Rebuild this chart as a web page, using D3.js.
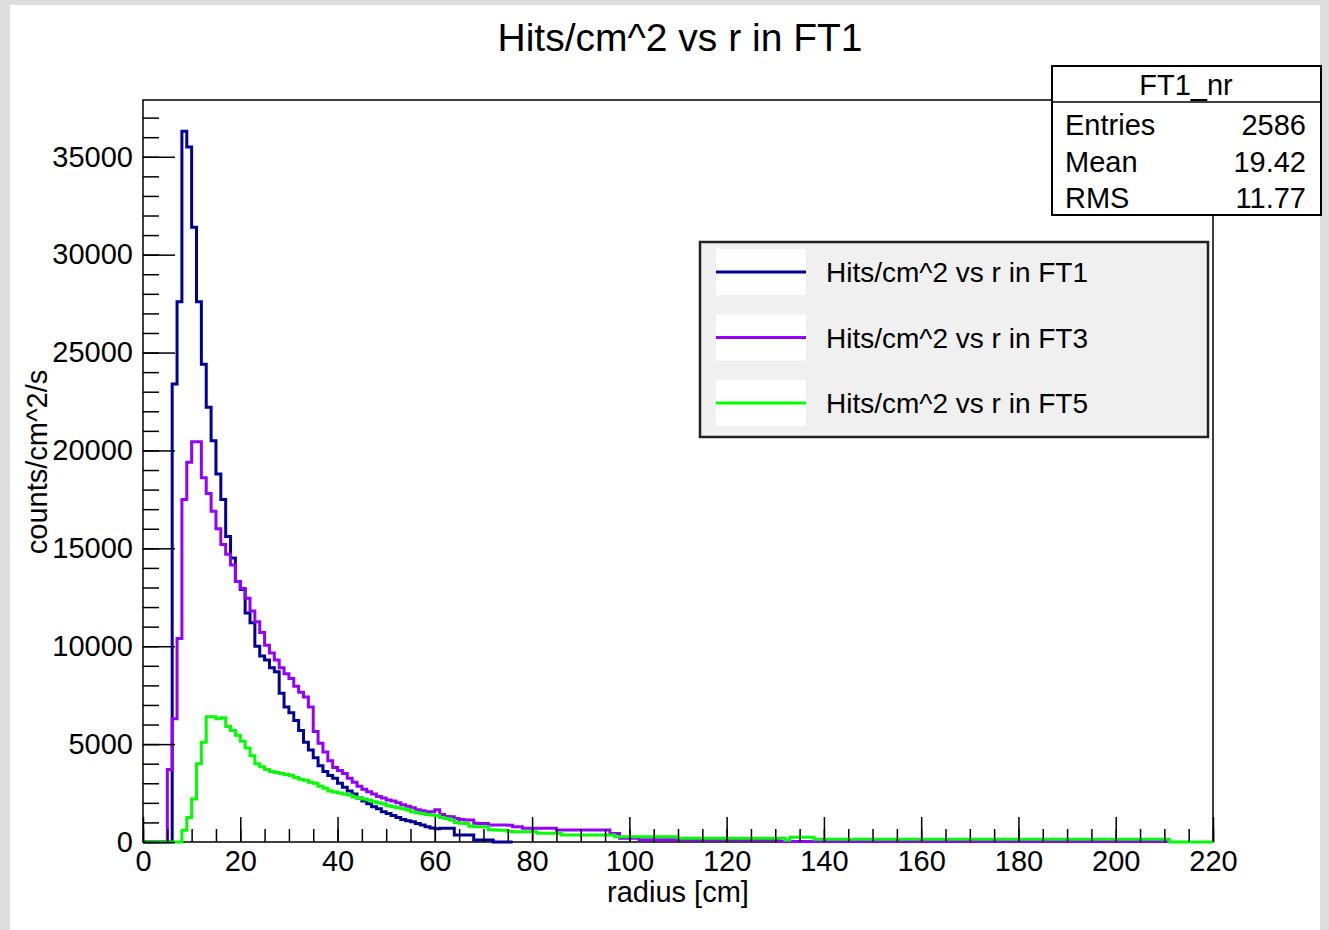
<!DOCTYPE html>
<html lang="en">
<head>
<meta charset="UTF-8">
<title>Hits/cm^2 vs r in FT1</title>
<script src="https://d3js.org/d3.v7.min.js"></script>
<style>
  body { margin: 0; padding: 0; background: #dedede; }
  svg { display: block; font-family: "Liberation Sans", Arial, Helvetica, sans-serif; }
</style>
</head>
<body>
<div id="chart"></div>
<script>
// histogram bins, 1 cm wide, starting at r = 0
const binWidth = 1;

// FT1 (bins 0..75)
const ft1 = [
  0, 0, 0, 0, 0, 0, 23400, 27600, 36300, 35500,
  31400, 27600, 24400, 22200, 20500, 18800, 17500, 15600, 14500, 13300,
  12900, 11700, 11200, 10000, 9500, 9300, 8900, 8700, 7600, 6900,
  6600, 6200, 5700, 5100, 4700, 4300, 3900, 3600, 3400, 3250,
  3000, 2800, 2600, 2450, 2250, 2100, 1950, 1800, 1700, 1550,
  1450, 1350, 1250, 1150, 1080, 1040, 950, 870, 780, 720,
  680, 700, 700, 700, 360, 360, 360, 360, 100, 100,
  100, 100, 0, 0, 0, 0
];

// FT3 (bins 0..210)
const ft3 = [
  0, 0, 0, 0, 0, 3700, 6300, 10400, 17500, 19400,
  20450, 20450, 18600, 17800, 16900, 16000, 15200, 14700, 14150, 13300,
  12950, 12450, 11800, 11250, 10700, 10050, 9650, 9300, 8900, 8600,
  8350, 7950, 7650, 7400, 6900, 5650, 5050, 4600, 4150, 3800,
  3650, 3500, 3250, 3050, 2850, 2700, 2570, 2450, 2320, 2250,
  2150, 2100, 2000, 1900, 1820, 1750, 1650, 1600, 1550, 1550,
  1650, 1400, 1300, 1290, 1200, 1150, 1120, 1120, 960, 950,
  950, 870, 870, 870, 870, 850, 780, 780, 700, 700,
  700, 700, 700, 700, 700, 610, 610, 610, 610, 610,
  610, 610, 610, 610, 610, 610, 440, 440, 190, 190,
  190, 190, 110, 110, 110, 110, 110, 110, 110, 110,
  110, 110, 110, 110, 110, 110, 110, 110, 110, 110,
  110, 110, 110, 110, 110, 110, 110, 110, 110, 110,
  110, 30, 30, 30, 30, 30, 30, 30, 30, 30,
  30, 30, 30, 30, 30, 30, 30, 30, 30, 30,
  30, 30, 30, 30, 30, 30, 30, 30, 30, 30,
  30, 30, 30, 30, 30, 30, 30, 30, 30, 30,
  30, 30, 30, 30, 30, 30, 30, 30, 30, 30,
  30, 30, 30, 30, 30, 30, 30, 30, 30, 30,
  30, 30, 30, 30, 30, 30, 30, 30, 30, 30,
  30, 30, 30, 30, 30, 30, 30, 30, 30, 30,
  30
];

// FT5 (bins 0..219)
const ft5 = [
  0, 0, 0, 0, 0, 0, 0, 0, 600, 1250,
  2200, 4000, 5100, 6400, 6400, 6300, 6350, 5900, 5700, 5450,
  5150, 4800, 4400, 4000, 3850, 3700, 3600, 3550, 3500, 3450,
  3400, 3300, 3200, 3150, 3050, 3000, 2850, 2750, 2600, 2550,
  2500, 2450, 2400, 2300, 2250, 2200, 2150, 2050, 2000, 1950,
  1850, 1800, 1750, 1700, 1650, 1550, 1500, 1450, 1400, 1380,
  1350, 1250, 1200, 1120, 1000, 960, 950, 800, 780, 780,
  780, 620, 610, 600, 600, 530, 520, 520, 520, 520,
  520, 450, 450, 450, 450, 450, 360, 360, 360, 360,
  360, 360, 360, 360, 360, 360, 360, 270, 270, 270,
  270, 270, 270, 270, 270, 270, 270, 270, 270, 270,
  190, 190, 190, 190, 190, 190, 190, 190, 190, 190,
  190, 190, 190, 190, 190, 190, 190, 190, 190, 190,
  190, 190, 100, 240, 240, 240, 240, 240, 140, 140,
  140, 140, 140, 140, 140, 140, 140, 140, 140, 140,
  140, 140, 140, 140, 140, 140, 140, 140, 140, 140,
  140, 140, 140, 140, 140, 140, 140, 140, 140, 140,
  140, 140, 140, 140, 140, 140, 140, 140, 140, 140,
  140, 140, 140, 140, 140, 140, 140, 140, 140, 140,
  140, 140, 140, 140, 140, 140, 140, 140, 140, 140,
  140, 140, 140, 140, 140, 140, 140, 140, 140, 140,
  140, 0, 0, 0, 0, 0, 0, 0, 0, 0
];

const seriesNames = ["Hits/cm^2 vs r in FT1", "Hits/cm^2 vs r in FT3", "Hits/cm^2 vs r in FT5"];
const seriesColors = ["#000096", "#9400ff", "#00ff00"];
const xTickValues = [0, 20, 40, 60, 80, 100, 120, 140, 160, 180, 200, 220];
const yTickValues = [0, 5000, 10000, 15000, 20000, 25000, 30000, 35000];
const statsLabels = ["Entries", "Mean", "RMS"];
const statsValues = ["2586", "19.42", "11.77"];

const W = 1329, H = 930;
const frame = {left: 143, right: 1213, top: 100, bottom: 842};
const font = 29;

const svg = d3.select("#chart").append("svg")
    .attr("width", W).attr("height", H);

// grey border + white canvas
svg.append("rect").attr("width", W).attr("height", H).attr("fill", "#dedede");
svg.append("rect").attr("x", 10).attr("y", 5).attr("width", 1310).attr("height", H - 5).attr("fill", "#fff");

const x = d3.scaleLinear().domain([0, 220]).range([frame.left, frame.right]);
const y = d3.scaleLinear().domain([0, 37900]).range([frame.bottom, frame.top]);

// frame
svg.append("rect")
    .attr("x", frame.left).attr("y", frame.top)
    .attr("width", frame.right - frame.left).attr("height", frame.bottom - frame.top)
    .attr("fill", "none").attr("stroke", "#000").attr("stroke-width", 1.5);

svg.append("defs").append("clipPath").attr("id", "clip")
  .append("rect")
    .attr("x", frame.left - 2).attr("y", frame.top)
    .attr("width", frame.right - frame.left + 4).attr("height", frame.bottom - frame.top + 2);

// histograms as step lines
const line = d3.line()
    .x(d => x(d[0]))
    .y(d => y(d[1]))
    .curve(d3.curveStepAfter);

function toSteps(bins) {
  const pts = bins.map((v, i) => [i * binWidth, v]);
  pts.push([bins.length * binWidth, bins[bins.length - 1]]);
  return pts;
}

[ft1, ft3, ft5].forEach((bins, i) => {
  svg.append("path")
      .datum(toSteps(bins))
      .attr("clip-path", "url(#clip)")
      .attr("fill", "none")
      .attr("stroke", seriesColors[i])
      .attr("stroke-width", 3)
      .attr("d", line);
});

// x axis ticks (pointing up into the frame)
const xMinor = svg.append("g")
    .attr("transform", `translate(0,${frame.bottom})`)
    .call(d3.axisBottom(x).tickValues(d3.range(0, 221, 5)).tickSize(-13).tickFormat(""));
const xMajor = svg.append("g")
    .attr("transform", `translate(0,${frame.bottom})`)
    .call(d3.axisBottom(x).tickValues(xTickValues).tickSize(-25).tickPadding(8).tickFormat(d3.format("d")));
xMajor.selectAll("text").attr("font-size", font).attr("fill", "#000");

// y axis ticks
const yMinor = svg.append("g")
    .attr("transform", `translate(${frame.left},0)`)
    .call(d3.axisLeft(y).tickValues(d3.range(0, 37001, 1000)).tickSize(-16).tickFormat(""));
const yMajor = svg.append("g")
    .attr("transform", `translate(${frame.left},0)`)
    .call(d3.axisLeft(y).tickValues(yTickValues).tickSize(-32).tickPadding(10).tickFormat(d3.format("d")));
yMajor.selectAll("text").attr("font-size", font).attr("fill", "#000");

[xMinor, xMajor, yMinor, yMajor].forEach(g => {
  g.select(".domain").remove();
  g.attr("font-family", null);
  g.selectAll("line").attr("stroke", "#000").attr("stroke-width", 1.5);
});

// axis titles
svg.append("text")
    .attr("x", (frame.left + frame.right) / 2).attr("y", 902)
    .attr("text-anchor", "middle").attr("font-size", font)
    .text("radius [cm]");
svg.append("text")
    .attr("transform", "translate(47,462) rotate(-90)")
    .attr("text-anchor", "middle").attr("font-size", font)
    .text("counts/cm^2/s");

// title
svg.append("text")
    .attr("x", 680).attr("y", 51)
    .attr("text-anchor", "middle").attr("font-size", 39)
    .text("Hits/cm^2 vs r in FT1");

// legend
const leg = svg.append("g");
leg.append("rect")
    .attr("x", 700).attr("y", 242).attr("width", 508).attr("height", 195)
    .attr("fill", "#f0f0f0").attr("stroke", "#222").attr("stroke-width", 2.5);
seriesNames.forEach((name, i) => {
  const cy = 272 + i * 65.5;
  leg.append("rect")
      .attr("x", 716).attr("y", cy - 23).attr("width", 90).attr("height", 46)
      .attr("fill", "#fff");
  leg.append("line")
      .attr("x1", 716).attr("x2", 806).attr("y1", cy).attr("y2", cy)
      .attr("stroke", seriesColors[i]).attr("stroke-width", 3);
  leg.append("text")
      .attr("x", 826).attr("y", cy + 10)
      .attr("font-size", 28)
      .text(name);
});

// stats box
const stats = svg.append("g");
stats.append("rect")
    .attr("x", 1052).attr("y", 66).attr("width", 269).attr("height", 149)
    .attr("fill", "#fff").attr("stroke", "#000").attr("stroke-width", 2);
stats.append("line")
    .attr("x1", 1052).attr("x2", 1321).attr("y1", 102).attr("y2", 102)
    .attr("stroke", "#000").attr("stroke-width", 1.5);
stats.append("text")
    .attr("x", 1186).attr("y", 95).attr("text-anchor", "middle")
    .attr("font-size", font).text("FT1_nr");
statsLabels.forEach((lab, i) => {
  const by = 135 + i * 36.5;
  stats.append("text").attr("x", 1065).attr("y", by).attr("font-size", font).text(lab);
  stats.append("text").attr("x", 1306).attr("y", by).attr("text-anchor", "end")
      .attr("font-size", font).text(statsValues[i]);
});
</script>
</body>
</html>
